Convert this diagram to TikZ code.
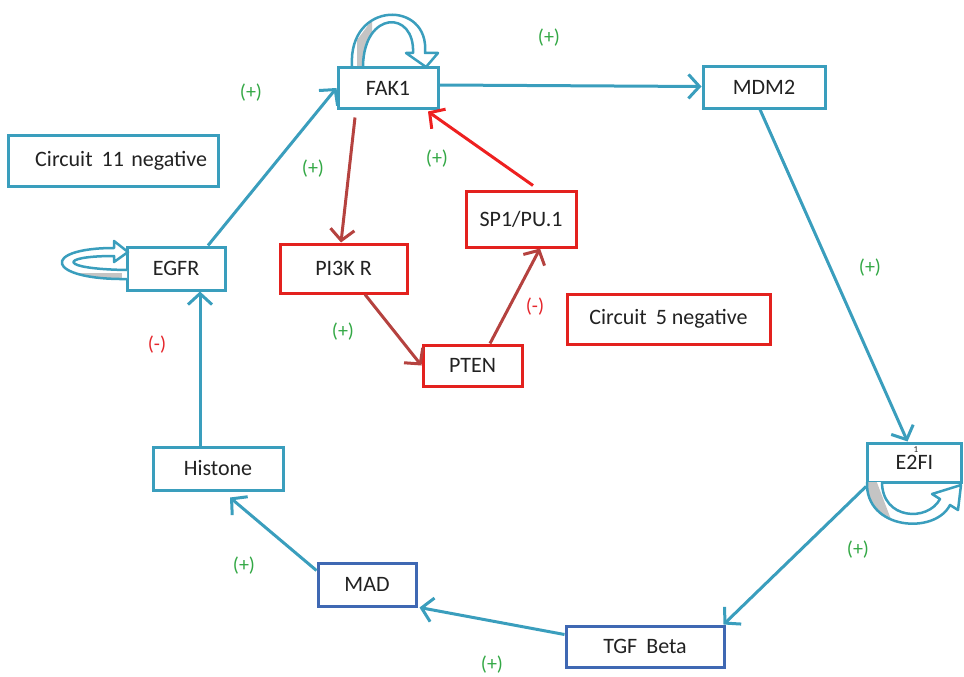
\documentclass[tikz,border=0pt]{standalone}
\usepackage{fontspec}
\setmainfont{Carlito}
\usetikzlibrary{arrows.meta}
\definecolor{teal1}{HTML}{3A9EBD}
\definecolor{blue1}{HTML}{3F68B3}
\definecolor{red1}{HTML}{E3211E}
\definecolor{brown1}{HTML}{B5423F}
\definecolor{redarr}{HTML}{EE2020}
\definecolor{green1}{HTML}{33A845}
\definecolor{redlab}{HTML}{E5252B}
\definecolor{gray1}{HTML}{C4C4C4}
\definecolor{txt}{HTML}{222222}
\tikzset{
  box/.style={draw, line width=3pt, fill=white, inner sep=0pt, text=txt, font=\fontsize{22}{26}\selectfont},
  tbox/.style={box, draw=teal1},
  bbox/.style={box, draw=blue1},
  rbox/.style={box, draw=red1},
  arr/.style={line width=3pt, -{Straight Barb[length=11pt,width=24pt,line width=3pt]}},
  tarr/.style={arr, draw=teal1},
  barr/.style={arr, draw=brown1},
  rarr/.style={arr, draw=redarr},
  poslab/.style={text=green1, font=\fontsize{20}{22}\selectfont},
  neglab/.style={text=redlab, font=\fontsize{20}{22}\selectfont},
  loopband/.style={draw=teal1, line width=2.5pt, fill=white, line join=round},
}
\begin{document}
\begin{tikzpicture}[x=1pt,y=-1pt]
\useasboundingbox (0,0) rectangle (964,677);

% nodes
\node[tbox, minimum width=100pt, minimum height=40pt] (fak1) at (388,88) {FAK1};
\node[tbox, minimum width=122pt, minimum height=41pt] (mdm2) at (764,87.5) {MDM2};
\node[tbox, minimum width=210pt, minimum height=51pt, text width=188pt, align=right] (circ11) at (113,160.5) {Circuit\hspace{9pt}11 negative};
\node[tbox, minimum width=98pt, minimum height=43pt] (egfr) at (176,268.5) {EGFR};
\node[rbox, minimum width=127pt, minimum height=49pt] (pi3k) at (343.5,268.5) {PI3K R};
\node[rbox, minimum width=110pt, minimum height=56pt] (sp1) at (521,219) {SP1/PU.1};
\node[rbox, minimum width=203pt, minimum height=50pt] (circ5) at (668.5,319) {Circuit\hspace{9pt}5 negative};
\node[rbox, minimum width=99pt, minimum height=41pt] (pten) at (472.5,365.5) {PTEN};
\node[tbox, minimum width=130pt, minimum height=43pt] (histone) at (218,468.5) {Histone};
\node[tbox, minimum width=94pt, minimum height=39pt] (e2fi) at (914.5,462.5) {E2FI};
\node[font=\fontsize{9}{10}\selectfont, text=txt, inner sep=0pt, text depth=0pt] (e2fsup) at (916,449.5) {1};
\node[bbox, minimum width=98pt, minimum height=43pt] (mad) at (367,584.5) {MAD};
\node[bbox, minimum width=158pt, minimum height=41pt] (tgf) at (645,646.5) {TGF\hspace{9pt}Beta};

% self loops
% FAK1
\begin{scope}
\path[fill=white] (352,66) .. controls (348,0) and (430,0) .. (425,53) -- (438,53) -- (426,67) -- (406,53) -- (413,53) .. controls (415,10) and (364,10) .. (363,66) -- cycle;
\clip (352,66) .. controls (348,0) and (430,0) .. (425,53) -- (413,53) .. controls (415,10) and (364,10) .. (363,66) -- cycle;
\fill[gray1] (357,70) -- (357,40) -- (372,20) -- (372,70) -- cycle;
\end{scope}
\draw[loopband, fill=none] (352,66) .. controls (348,0) and (430,0) .. (425,53) -- (438,53) -- (426,67) -- (406,53) -- (413,53) .. controls (415,10) and (364,10) .. (363,66);
% EGFR
\begin{scope}
\path[fill=white] (127,279) .. controls (45,280) and (40,248) .. (114,248) -- (114,241) -- (128,252) -- (114,262) -- (114,256) .. controls (58,256) and (58,269) .. (127,270) -- cycle;
\clip (127,279) .. controls (45,280) and (40,248) .. (114,248) -- (114,256) .. controls (58,256) and (58,269) .. (127,270) -- cycle;
\fill[gray1] (55,273) rectangle (122,290);
\end{scope}
\draw[loopband, fill=none] (127,279) .. controls (45,280) and (40,248) .. (114,248) -- (114,241) -- (128,252) -- (114,262) -- (114,256) .. controls (58,256) and (58,269) .. (127,270);
% E2FI
\begin{scope}
\path[fill=white] (867,482) .. controls (865,530) and (935,535) .. (950,505) -- (958,510) -- (961,485) -- (932,494) -- (940,499) .. controls (928,522) and (882,520) .. (882,482) -- cycle;
\clip (867,482) .. controls (865,530) and (935,535) .. (950,505) -- (940,499) .. controls (928,522) and (882,520) .. (882,482) -- cycle;
\fill[gray1] (860,480) -- (876,480) -- (892,522) -- (860,522) -- cycle;
\end{scope}
\draw[loopband, fill=none] (867,482) .. controls (865,530) and (935,535) .. (950,505) -- (958,510) -- (961,485) -- (932,494) -- (940,499) .. controls (928,522) and (882,520) .. (882,482);

% connectors
\draw[tarr] ([xshift=32pt]egfr.north) -- (fak1.west);
\draw[tarr] ([yshift=3pt]fak1.east) -- ([yshift=1pt]mdm2.west);
\draw[tarr] ([xshift=-4pt]mdm2.south) -- ([xshift=-7pt]e2fi.north);
\draw[tarr] ([yshift=-3pt]e2fi.south west) -- ([xshift=-2pt]tgf.north east);
\draw[tarr] ([yshift=12pt]tgf.west) -- ([xshift=2pt]mad.south east);
\draw[tarr] ([yshift=-9pt]mad.north west) -- ([xshift=12pt,yshift=-6pt]histone.south);
\draw[tarr] ([xshift=-18pt]histone.north) -- ([xshift=24pt]egfr.south);
\draw[barr] ([xshift=-33pt,yshift=-8pt]fak1.south) -- ([xshift=-2.5pt]pi3k.north);
\draw[barr] ([xshift=21.5pt]pi3k.south) -- (pten.west);
\draw[barr] ([xshift=17.5pt]pten.north) -- ([xshift=19pt]sp1.south);
\draw[rarr] ([xshift=12pt,yshift=4pt]sp1.north) -- ([xshift=40pt,yshift=-2pt]fak1.south);

% labels
\node[poslab] (l1) at (251,93) {(+)};
\node[poslab] (l2) at (549,38) {(+)};
\node[poslab] (l3) at (313,169) {(+)};
\node[poslab] (l4) at (437,159) {(+)};
\node[poslab] (l5) at (870,268) {(+)};
\node[neglab] (l6) at (157,345) {(-)};
\node[neglab] (l7) at (535,307) {(-)};
\node[poslab] (l8) at (343,332) {(+)};
\node[poslab] (l9) at (858,550) {(+)};
\node[poslab] (l10) at (244,566) {(+)};
\node[poslab] (l11) at (492,665) {(+)};
\end{tikzpicture}
\end{document}
